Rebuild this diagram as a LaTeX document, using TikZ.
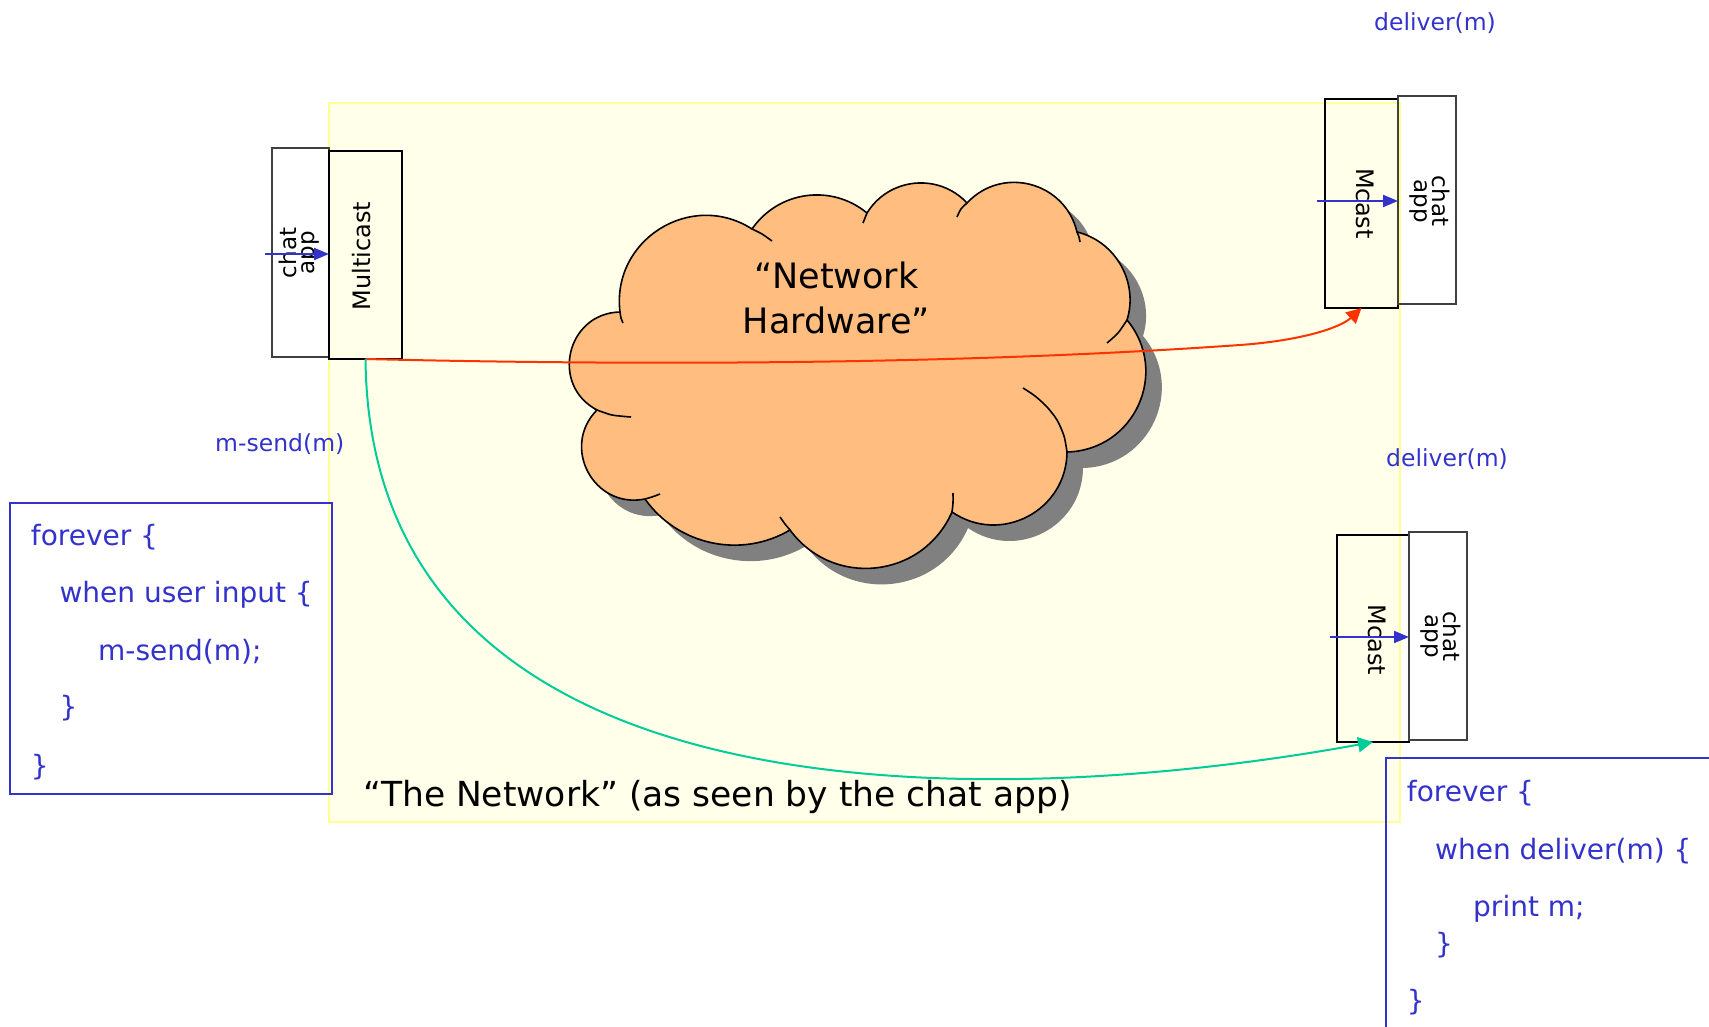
\documentclass[tikz,border=0pt]{standalone}
\usepackage{fontspec}
\setmainfont{DejaVu Sans}
\usetikzlibrary{arrows.meta}

\definecolor{codeblue}{RGB}{51,51,204}
\definecolor{netfill}{RGB}{255,255,234}
\definecolor{netedge}{RGB}{255,255,150}
\definecolor{cloudfill}{RGB}{255,189,127}
\definecolor{cloudshadow}{RGB}{128,128,128}
\definecolor{sendred}{RGB}{255,51,0}
\definecolor{sendgreen}{RGB}{0,204,153}

\newcommand\fCode{\fontsize{28}{34}\selectfont}
\newcommand\fLbl{\fontsize{23.5}{28}\selectfont}
\newcommand\fNet{\fontsize{34.5}{40}\selectfont}
\newcommand\fCloud{\fontsize{35}{45}\selectfont}
\newcommand\fBox{\fontsize{24}{28}\selectfont}
\newcommand\fApp{\fontsize{23}{18}\selectfont}

% outline of the cloud: one round puff between each pair of cusps
\newcommand\cloudoutline[1]{%
  \path[#1]
    (597,410) to[bend left=75.5, looseness=1.36] (620,312)
              to[bend left=64.8, looseness=1.19] (752,229)
              to[bend left=47.4, looseness=1.02] (867,213)
              to[bend left=52.7, looseness=1.06] (967,203)
              to[bend left=61.8, looseness=1.16] (1077,232)
              to[bend left=47,   looseness=1.0]  (1127,320)
              to[bend left=64.2, looseness=1.19] (1067,452)
              to[bend left=62,   looseness=1.16] (952,512)
              to[bend left=60,   looseness=1.14] (790,530)
              to[bend left=42.7, looseness=0.98] (645,499)
              to[bend left=73.1, looseness=1.32] (597,410)
    -- cycle;}

\begin{document}
\begin{tikzpicture}[x=1pt,y=-1pt,
  box/.style={draw=black, line width=2pt, inner sep=0pt, outer sep=0pt},
  appbox/.style={draw=black!75, line width=1.5pt, inner sep=0pt, outer sep=0pt},
  boxlabel/.style={inner sep=0pt, font=\fBox},
  applabel/.style={inner sep=0pt, font=\fApp, align=center},
  codeframe/.style={draw=codeblue, line width=2pt, inner sep=0pt, outer sep=0pt},
  codeline/.style={inner sep=0pt, anchor=base west, text=codeblue, font=\fCode},
  evlabel/.style={inner sep=0pt, anchor=base west, text=codeblue, font=\fLbl},
  inarrow/.style={draw=codeblue, line width=2pt, -{Triangle[length=15pt,width=12pt]}},
  flow/.style={line width=2pt, -{Triangle[length=15pt,width=15pt]}},
  tail/.style={draw=black, line width=1.6pt}
]
\useasboundingbox (0,0) rectangle (1709,1027);
\fill[white] (0,0) rectangle (1709,1027);
\clip (0,0) rectangle (1709,1027);

% the network area
\node[fill=netfill, draw=netedge, line width=1.5pt, minimum width=1071pt, minimum height=719pt,
      inner sep=0pt, outer sep=0pt] (net) at (864.5,462.5) {};
\node[inner sep=0pt, anchor=base west, font=\fNet] (netlabel) at (363,806.5)
  {“The Network” (as seen by the chat app)};

% cloud with its drop shadow
\cloudoutline{fill=cloudshadow, shift={(16,16)}}
\cloudoutline{fill=cloudfill, draw=black, line width=1.6pt}
\draw[tail] plot[smooth] coordinates {(597,410) (612,415) (631,417)};
\draw[tail] plot[smooth] coordinates {(620,312) (621,318) (623,323)};
\draw[tail] plot[smooth] coordinates {(752,229) (762,234) (772,241)};
\draw[tail] plot[smooth] coordinates {(867,213) (865,218) (863,223)};
\draw[tail] plot[smooth] coordinates {(967,203) (961,209) (957,217)};
\draw[tail] plot[smooth] coordinates {(1077,232) (1079,237) (1080,242)};
\draw[tail] plot[smooth] coordinates {(1127,320) (1118,333) (1107,343)};
\draw[tail] plot[smooth] coordinates {(1067,452) (1064,436) (1057,420) (1047,407) (1035,396) (1023,388)};
\draw[tail] plot[smooth] coordinates {(952,512) (953,503) (953,493)};
\draw[tail] plot[smooth] coordinates {(790,530) (785,524) (780,517)};
\draw[tail] plot[smooth] coordinates {(645,499) (652,497) (660,494)};
\node[inner sep=0pt, anchor=base, font=\fCloud] (hw1) at (836.5,288.5) {“Network};
\node[inner sep=0pt, anchor=base, font=\fCloud] (hw2) at (836.5,333.5) {Hardware”};

% sender
\node[appbox, minimum width=57pt, minimum height=209pt] (chatL) at (300.5,252.5) {};
\node[box, minimum width=73pt, minimum height=208pt] (multiL) at (365.5,255) {};
\node[applabel, rotate=90] (chatLtxt) at (299,253) {chat\\app};
\node[boxlabel, rotate=90] (multiLtxt) at (362,256) {Multicast};
\coordinate (inL) at (265,254);
\draw[inarrow] (inL) -- (inL -| multiL.west);

% receiver, top
\node[box, minimum width=73pt, minimum height=209pt] (mcastT) at (1361.5,203.5) {};
\node[appbox, minimum width=58pt, minimum height=208pt] (chatT) at (1427,200) {};
\node[boxlabel, rotate=-90] (mcastTtxt) at (1365,203.5) {Mcast};
\node[applabel, rotate=-90] (chatTtxt) at (1430,201) {chat\\app};
\coordinate (inT) at (1317,201);
\draw[inarrow] (inT) -- (inT -| chatT.west);

% receiver, bottom
\node[box, minimum width=72pt, minimum height=207pt] (mcastB) at (1373,638.5) {};
\node[appbox, minimum width=58pt, minimum height=208pt] (chatB) at (1438,636) {};
\node[boxlabel, rotate=-90] (mcastBtxt) at (1377,640) {Mcast};
\node[applabel, rotate=-90] (chatBtxt) at (1441,636.5) {chat\\app};
\coordinate (inB) at (1330,637);
\draw[inarrow] (inB) -- (inB -| chatB.west);

% multicast deliveries
\draw[flow, draw=sendred] (multiL.south)
  .. controls (700,367) and (1000,362) .. (1240,345)
  .. controls (1300,340.75) and (1340,328) .. (mcastT.south);
\draw[flow, draw=sendgreen] (multiL.south)
  .. controls (370,830) and (1000,810) .. (mcastB.south);

% event labels
\node[evlabel] (sendlbl) at (215,451.5) {m-send(m)};
\node[evlabel] (dlvT) at (1374,31) {deliver(m)};
\node[evlabel] (dlvB) at (1386,466.5) {deliver(m)};

% sender program
\node[codeframe, minimum width=322pt, minimum height=291pt] (codeL) at (171,648.5) {};
\node[codeline] (cl1) at (30.7,545) {forever \{};
\node[codeline] (cl2) at (59.3,602.7) {when user input \{};
\node[codeline] (cl3) at (98,660.7) {m-send(m);};
\node[codeline] (cl4) at (59.3,716.7) {\}};
\node[codeline] (cl5) at (30.7,775) {\}};

% receiver program
\node[codeframe, anchor=north west, minimum width=400pt, minimum height=330pt] (codeR) at (1386,758) {};
\node[codeline] (cr1) at (1406.7,801.7) {forever \{};
\node[codeline] (cr2) at (1435,859.3) {when deliver(m) \{};
\node[codeline] (cr3) at (1473,916.7) {print m;};
\node[codeline] (cr4) at (1435,953) {\}};
\node[codeline] (cr5) at (1406.7,1010) {\}};
\end{tikzpicture}
\end{document}
